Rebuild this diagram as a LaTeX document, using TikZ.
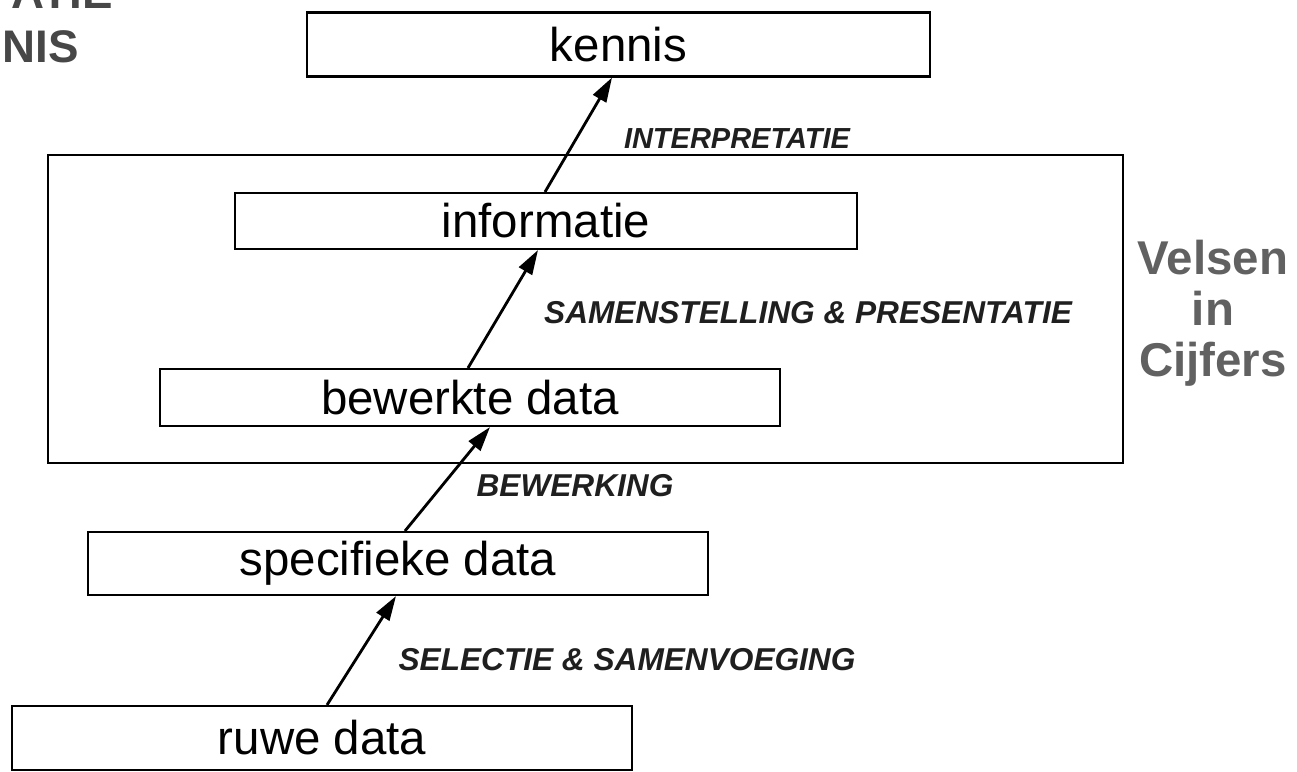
\documentclass[tikz,border=0pt]{standalone}
\usepackage{fontspec}
\setmainfont{Liberation Sans}
\usetikzlibrary{arrows.meta}
\begin{document}
\begin{tikzpicture}[x=0.02cm,y=-0.02cm,
  box/.style={draw=black,line width=1.2pt,inner sep=0pt,font=\fontsize{27}{30}\selectfont},
  lbl/.style={font=\fontsize{18}{21}\selectfont\bfseries\itshape,text=black!88,inner sep=0pt},
  conn/.style={line width=1.6pt,-{Triangle[length=14pt,width=8.5pt]}},
  side/.style={font=\fontsize{27}{29}\selectfont\bfseries,text=black!62,inner sep=0pt,align=center}
]
\useasboundingbox (0,0) rectangle (1297,771);
\clip (0,0) rectangle (1297,771);
% frame
\node[draw=black,line width=1.3pt,inner sep=0pt,minimum width=21.5cm,minimum height=6.16cm] (frame) at (585.5,309) {};
% boxes
\node[box,minimum width=12.46cm,minimum height=1.28cm] (kennis) at (618.5,44.5) {kennis};
\node[box,minimum width=12.44cm,minimum height=1.12cm] (info) at (546,221) {informatie};
\node[box,minimum width=12.4cm,minimum height=1.14cm] (bew) at (470,397.5) {bewerkte data};
\node[box,minimum width=12.4cm,minimum height=1.26cm] (spec) at (398,563.5) {specifieke data};
\node[box,minimum width=12.4cm,minimum height=1.28cm] (ruwe) at (322,738) {ruwe data};
% arrows
\draw[conn] ([xshift=0.1cm]ruwe.north) -- ([xshift=-0.04cm]spec.south);
\draw[conn] ([xshift=0.14cm]spec.north) -- ([xshift=0.4cm]bew.south);
\draw[conn] ([xshift=-0.04cm]bew.north) -- ([xshift=-0.16cm]info.south);
\draw[conn] ([xshift=-0.02cm]info.north) -- ([xshift=-0.13cm]kennis.south);
% labels
\node[lbl,font=\fontsize{16.5}{19}\selectfont\bfseries\itshape] (l1) at (737,139) {INTERPRETATIE};
\node[lbl] (l2) at (808,313) {SAMENSTELLING \& PRESENTATIE};
\node[lbl] (l3) at (575,486) {BEWERKING};
\node[lbl] (l4) at (627,660) {SELECTIE \& SAMENVOEGING};
% side title
\node[side] (velsen) at (1213,313) {Velsen\\in\\Cijfers};
% cut-off title top-left
\node[font=\fontsize{26}{30}\selectfont\bfseries,text=black!72,inner sep=0pt,anchor=base east] (t1) at (113,8) {ATIE};
\node[font=\fontsize{26}{30}\selectfont\bfseries,text=black!72,inner sep=0pt,anchor=base east] (t2) at (79,62) {NIS};
\end{tikzpicture}
\end{document}
